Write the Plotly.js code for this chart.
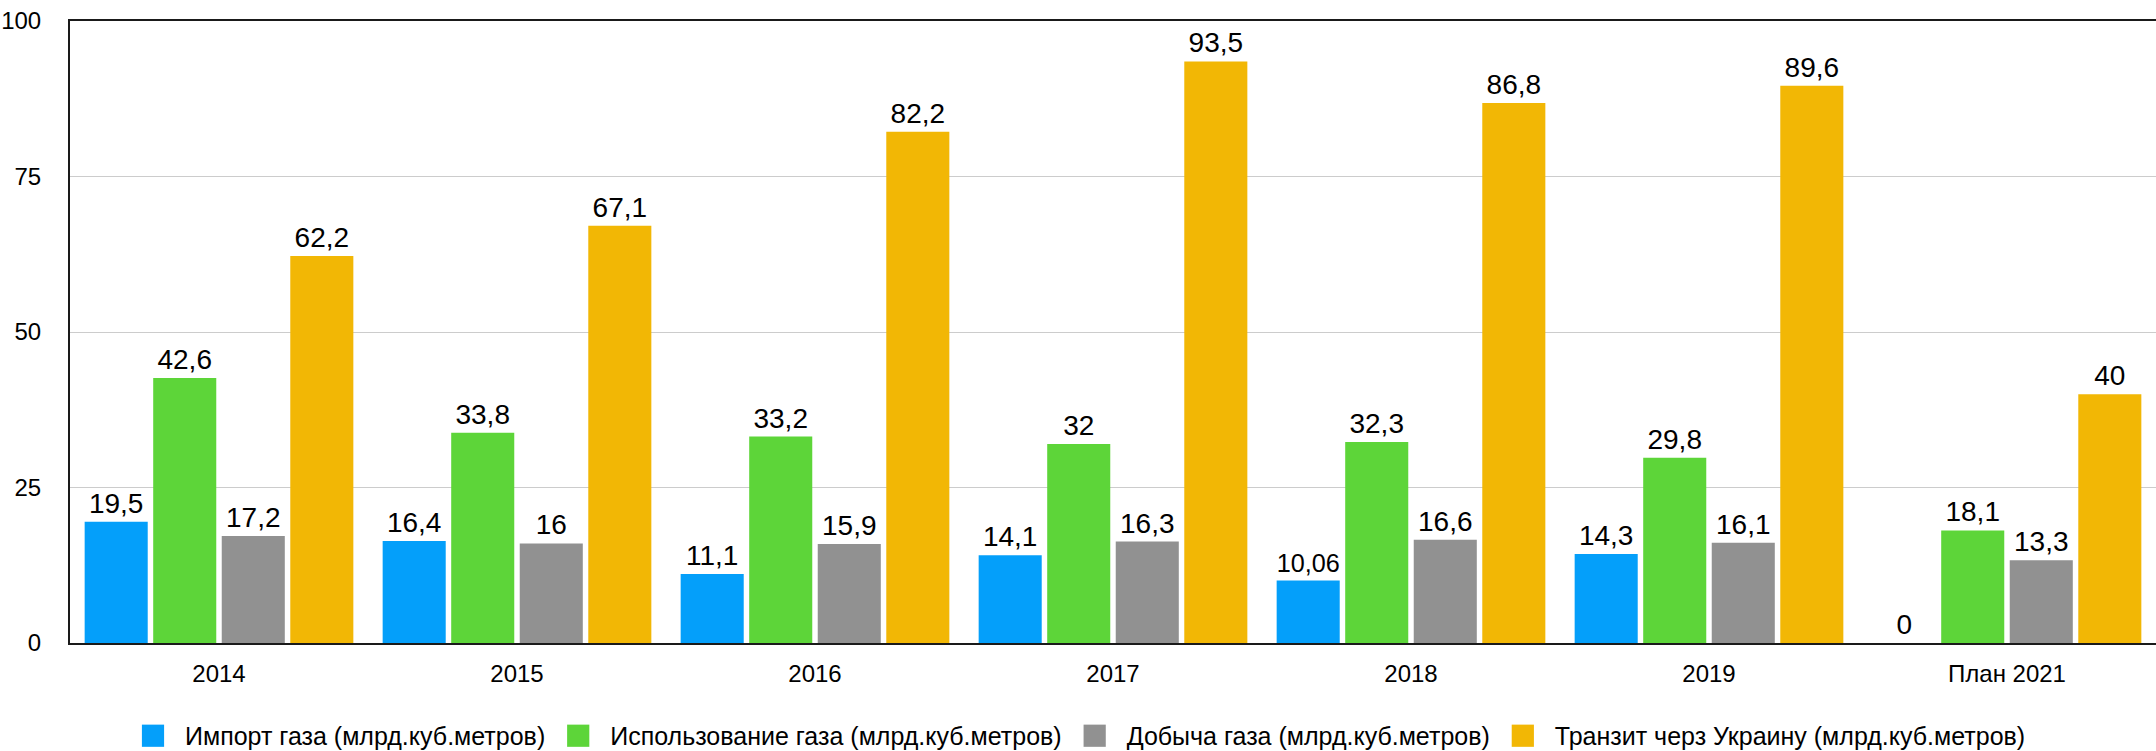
<!DOCTYPE html>
<html>
<head>
<meta charset="utf-8">
<script src="https://cdn.plot.ly/plotly-3.0.1.min.js"></script>
<style>
  html, body { margin: 0; padding: 0; background: #ffffff; }
  #chart { width: 2156px; height: 751px; }
</style>
</head>
<body>
<div id="chart"></div>
<script>
const categories = ["2014", "2015", "2016", "2017", "2018", "2019", "План 2021"];
const importGas = [19.5, 16.4, 11.1, 14.1, 10.06, 14.3, 0];
const useGas = [42.6, 33.8, 33.2, 32, 32.3, 29.8, 18.1];
const extractGas = [17.2, 16, 15.9, 16.3, 16.6, 16.1, 13.3];
const transitGas = [62.2, 67.1, 82.2, 93.5, 86.8, 89.6, 40];
const seriesNames = [
  "Импорт газа (млрд.куб.метров)",
  "Использование газа (млрд.куб.метров)",
  "Добыча газа (млрд.куб.метров)",
  "Транзит черз Украину (млрд.куб.метров)"
];
const seriesColors = ["#049FFA", "#5DD539", "#919191", "#F2B705"];
const yTicks = [0, 25, 50, 75, 100];

const FONT = "Helvetica Neue, Helvetica, Arial, Liberation Sans, sans-serif";
const fmt = v => String(v).replace(".", ",");

const allSeries = [importGas, useGas, extractGas, transitGas];
const traces = allSeries.map((vals, i) => ({
  type: "bar",
  name: seriesNames[i],
  x: categories,
  y: vals,
  text: vals.map(fmt),
  textposition: "outside",
  cliponaxis: false,
  textfont: { family: FONT, size: 28, color: "#000000" },
  marker: { color: seriesColors[i], line: { width: 0 } },
  hoverinfo: "skip"
}));

const layout = {
  width: 2156,
  height: 751,
  margin: { l: 70, r: 0, t: 21, b: 108 },
  paper_bgcolor: "#ffffff",
  plot_bgcolor: "#ffffff",
  font: { family: FONT, color: "#000000" },
  barmode: "group",
  bargap: 0.08,
  bargroupgap: 0.08,
  showlegend: true,
  legend: {
    orientation: "h",
    xref: "container",
    yref: "container",
    x: 0.5,
    xanchor: "center",
    y: 0.02,
    yanchor: "middle",
    itemwidth: 50,
    font: { family: FONT, size: 25, color: "#000000" },
    itemclick: false,
    traceorder: "normal"
  },
  xaxis: {
    type: "category",
    showline: true,
    linecolor: "#1a1a1a",
    linewidth: 2,
    mirror: true,
    showgrid: false,
    ticks: "",
    tickfont: { family: FONT, size: 24, color: "#000000" },
    ticklabelstandoff: 8,
    zeroline: false,
    fixedrange: true
  },
  yaxis: {
    range: [0, 100],
    tickvals: yTicks,
    ticktext: yTicks.map(String),
    showline: true,
    linecolor: "#1a1a1a",
    linewidth: 2,
    showgrid: true,
    gridcolor: "#cccccc",
    gridwidth: 1,
    zeroline: false,
    ticks: "",
    tickfont: { family: FONT, size: 24, color: "#000000" },
    ticklabelstandoff: 22,
    fixedrange: true
  }
};

Plotly.newPlot("chart", traces, layout, { displayModeBar: false, staticPlot: true }).then(() => {
  // enlarge legend swatches to match the reference's larger squares
  document.querySelectorAll("#chart .legend .traces").forEach(g => {
    const t = g.querySelector("text.legendtext");
    const tx = t ? parseFloat(t.getAttribute("x")) || 40 : 40;
    g.querySelectorAll(".legendpoints path").forEach(p => {
      p.setAttribute("transform", "translate(" + (tx - 32) + ",0) scale(1.85)");
    });
  });
});
</script>
</body>
</html>
